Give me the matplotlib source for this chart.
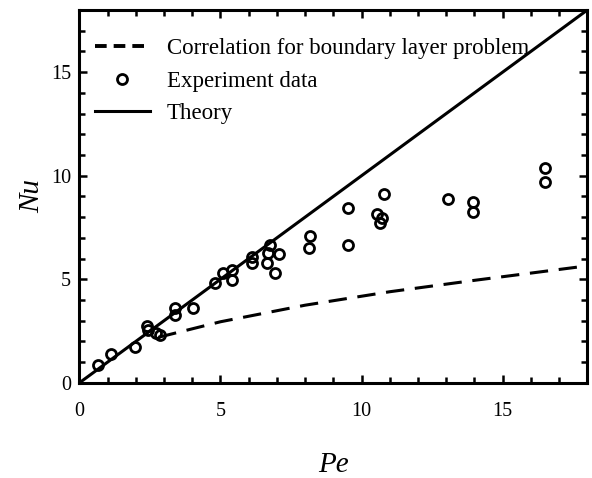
import numpy as np
import matplotlib
matplotlib.use("Agg")
import matplotlib.pyplot as plt
from matplotlib.lines import Line2D
from matplotlib.ticker import MultipleLocator
from matplotlib.transforms import ScaledTranslation

plt.rcParams['font.family'] = ['Liberation Serif', 'DejaVu Serif']

# experiment data
pe_exp = [0.67, 1.14, 1.98, 2.4, 2.45, 2.7, 2.85, 3.4, 3.4, 4.04,
          4.81, 5.1, 5.42, 5.42, 6.13, 6.13, 6.77, 6.7, 7.09, 6.66, 6.94,
          8.17, 8.13, 9.53, 9.53, 10.8, 10.56, 10.74, 10.67,
          13.06, 13.95, 13.95, 16.5, 16.5]
nu_exp = [0.85, 1.4, 1.74, 2.75, 2.55, 2.4, 2.3, 3.6, 3.3, 3.62,
          4.83, 5.3, 5.45, 4.97, 6.08, 5.78, 6.66, 6.27, 6.23, 5.79, 5.31,
          7.1, 6.5, 8.43, 6.65, 9.1, 8.15, 7.95, 7.7,
          8.9, 8.72, 8.25, 10.37, 9.7]

# theory line
pe_theory = [0, 18]
nu_theory = [0, 18]

# boundary layer correlation
pe_corr = [2.8, 5, 8, 11, 14, 18]
nu_corr = [2.2, 2.95, 3.75, 4.4, 4.95, 5.65]


def main():
    fig = plt.figure(figsize=(5.92, 4.78), dpi=100)
    ax = fig.add_axes([0.134, 0.199, 0.858, 0.78])

    ax.plot(pe_theory, nu_theory, color='black', lw=2.2)
    ax.plot(pe_corr, nu_corr, color='black', lw=2.2, dashes=(6, 3.5))
    ax.plot(pe_exp, nu_exp, linestyle='none', marker='o', ms=7.2,
            mfc='none', mec='black', mew=2.0)

    ax.set_xlim(0, 18)
    ax.set_ylim(0, 18)
    ax.xaxis.set_major_locator(MultipleLocator(5))
    ax.xaxis.set_minor_locator(MultipleLocator(1))
    ax.yaxis.set_major_locator(MultipleLocator(5))
    ax.yaxis.set_minor_locator(MultipleLocator(1))
    ax.tick_params(which='both', direction='in', top=True, right=True,
                   width=1.8, labelsize=14.5)
    ax.tick_params(which='major', length=6)
    ax.tick_params(which='minor', length=4)
    ax.tick_params(axis='x', pad=14)
    ax.tick_params(axis='y', pad=6)
    for s in ax.spines.values():
        s.set_linewidth(2.2)

    ax.set_xlabel('Pe', fontsize=21, style='italic', labelpad=22)
    ax.set_ylabel('Nu', fontsize=21, style='italic', labelpad=4)

    # zero labels sit a bit off the corner, as in the original
    fig.canvas.draw()
    xl = ax.get_xticklabels()[0]
    xl.set_transform(xl.get_transform() +
                     ScaledTranslation(-7 / 72, 0, fig.dpi_scale_trans))
    yl = ax.get_yticklabels()[0]
    yl.set_transform(yl.get_transform() +
                     ScaledTranslation(0, 6 / 72, fig.dpi_scale_trans))

    handles = [
        Line2D([], [], color='black', lw=2.8, dashes=(3, 1.8)),
        Line2D([], [], linestyle='none', marker='o', ms=7.2,
               mfc='none', mec='black', mew=2.0),
        Line2D([], [], color='black', lw=2.2),
    ]
    labels = ['Correlation for boundary layer problem',
              'Experiment data', 'Theory']
    ax.legend(handles, labels, loc='upper left', bbox_to_anchor=(0.03, 0.925),
              frameon=False, fontsize=16.5, handlelength=2.4,
              handletextpad=0.75, labelspacing=0.5, borderpad=0,
              borderaxespad=0)

    fig.savefig('out.png', dpi=100)


if __name__ == "__main__":
    main()
